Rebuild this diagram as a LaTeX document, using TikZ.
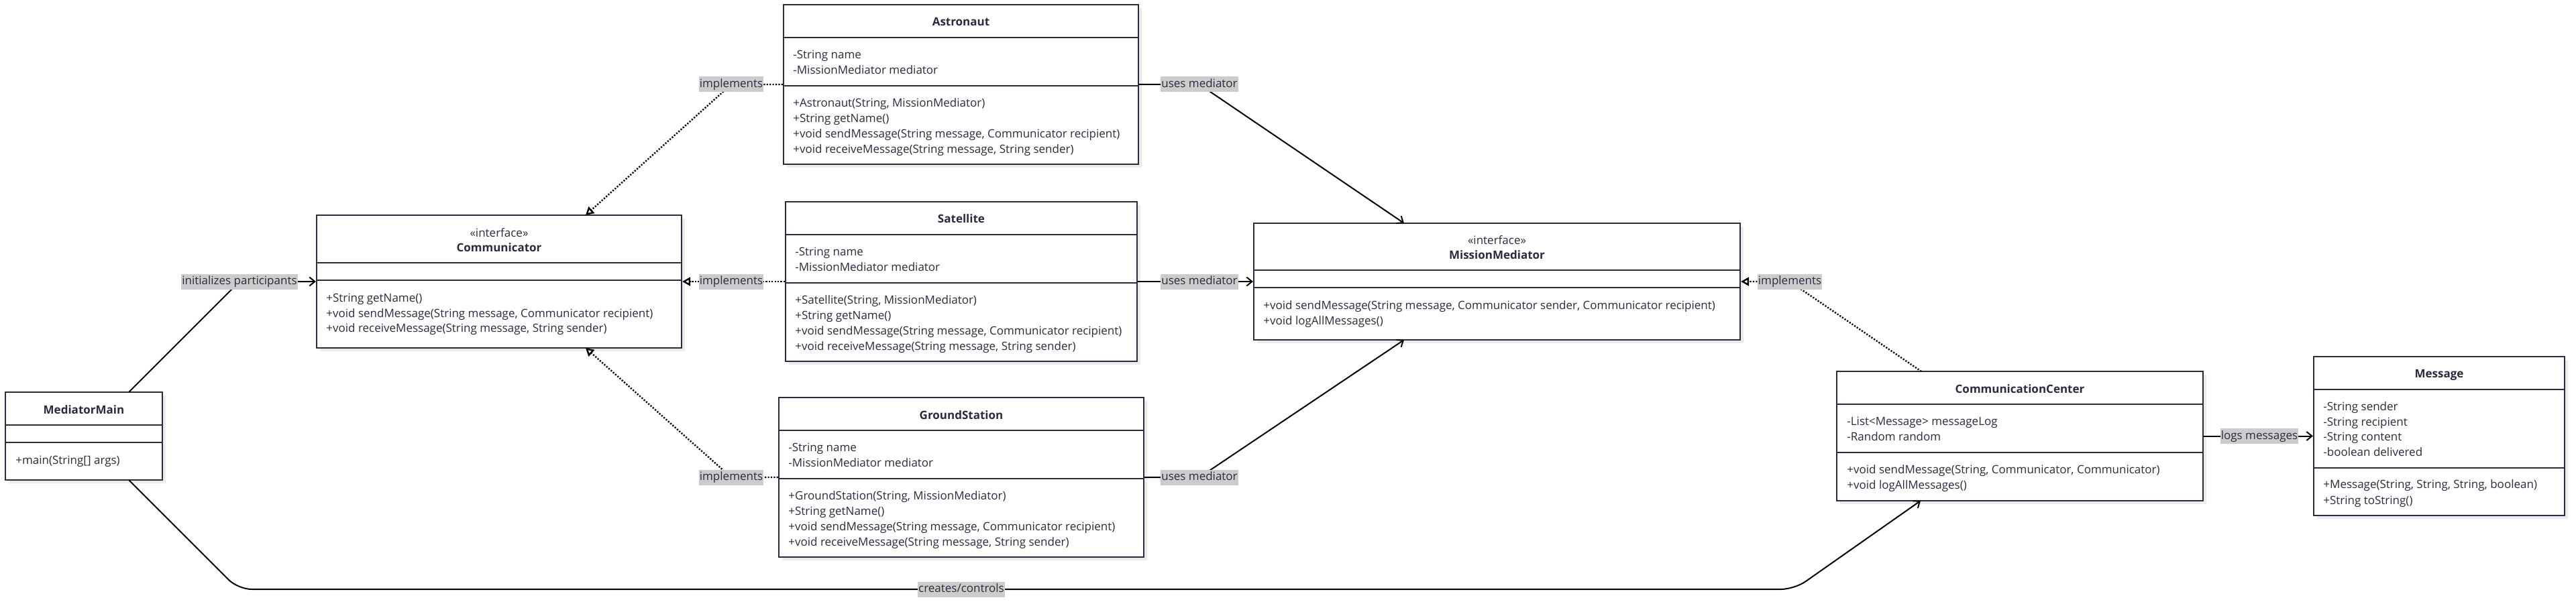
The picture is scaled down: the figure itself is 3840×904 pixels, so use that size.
\documentclass[tikz,border=0pt]{standalone}
\usepackage{fontspec}
\setmainfont{Open Sans}
\usetikzlibrary{arrows.meta,fit}
\definecolor{ink}{HTML}{2B2B3D}
\definecolor{lblbg}{HTML}{CCCCCC}
\definecolor{shade}{HTML}{ECECEC}
\tikzset{
 classbox/.style={draw=ink, line width=1.1pt, fill=white, inner sep=0pt},
 shadowbox/.style={fill=shade},
 divline/.style={draw=ink, line width=1.1pt},
 txt/.style={inner sep=0pt, text=ink, font=\fontsize{8.5}{11.5}\selectfont},
 ttl/.style={inner sep=0pt, text=ink, font=\fontsize{8.5}{11.5}\selectfont\bfseries},
 lbl/.style={sharp corners, fill=lblbg, text=ink, inner xsep=0.6pt, inner ysep=0pt, minimum height=11.5pt, text height=6.2pt, text depth=1.7pt, font=\fontsize{8.5}{11.5}\selectfont},
 assoc/.style={line width=1pt, draw=black, -{Straight Barb[length=4pt,width=6.5pt]}},
 realize/.style={line width=1.2pt, draw=black, dash pattern=on 1.1pt off 1.1pt, -{Triangle[open,length=6pt,width=6.5pt,fill=white]}},
}
\newcommand{\umlclass}[5]{%
 \fill[shadowbox] (#2+5,#3+5) rectangle (#4+5,#5+5);
 \node[classbox, fit={(#2,#3) (#4,#5)}] (#1) {};}
\newcommand{\umldiv}[3]{\draw[divline] (#1,#3) -- (#2,#3);}
\newcommand{\umlline}[4]{\node[txt,anchor=base west] (#1) at (#2,#3) {#4};}
\newcommand{\umltitle}[4]{\node[ttl,anchor=base] (#1) at (#2,#3) {#4};}
\newcommand{\umlstereo}[4]{\node[txt,anchor=base] (#1) at (#2,#3) {#4};}
\begin{document}
\begin{tikzpicture}[x=0.5pt,y=-0.5pt]
\useasboundingbox (0,0) rectangle (3840,904);

% MediatorMain
\umlclass{mm}{8}{585}{242}{716}
\umldiv{8}{242}{634}\umldiv{8}{242}{660}
\umltitle{mm-t0}{125}{617.5}{MediatorMain}
\umlline{mm-m1}{23}{692.5}{+main(String[] args)}

% Communicator
\umlclass{comm}{472}{321}{1016}{519}
\umldiv{472}{1016}{392}\umldiv{472}{1016}{418}
\umlstereo{comm-s}{744}{353.5}{«interface»}
\umltitle{comm-t0}{744}{375.5}{Communicator}
\umlline{comm-m1}{486}{450.5}{+String getName()}
\umlline{comm-m2}{486}{473}{+void sendMessage(String message, Communicator recipient)}
\umlline{comm-m3}{486}{495.5}{+void receiveMessage(String message, String sender)}

% Astronaut
\umlclass{ast}{1168}{7}{1697}{245}
\umldiv{1168}{1697}{56}\umldiv{1168}{1697}{128}
\umltitle{ast-t0}{1432.5}{39}{Astronaut}
\umlline{ast-a1}{1182}{87.5}{-String name}
\umlline{ast-a2}{1182}{110.5}{-MissionMediator mediator}
\umlline{ast-m1}{1182}{159.5}{+Astronaut(String, MissionMediator)}
\umlline{ast-m2}{1182}{182.5}{+String getName()}
\umlline{ast-m3}{1182}{205.5}{+void sendMessage(String message, Communicator recipient)}
\umlline{ast-m4}{1182}{228.5}{+void receiveMessage(String message, String sender)}

% Satellite
\umlclass{sat}{1171}{301}{1695}{539}
\umldiv{1171}{1695}{350}\umldiv{1171}{1695}{422}
\umltitle{sat-t0}{1433}{332}{Satellite}
\umlline{sat-a1}{1185}{381.5}{-String name}
\umlline{sat-a2}{1185}{404.5}{-MissionMediator mediator}
\umlline{sat-m1}{1185}{453.5}{+Satellite(String, MissionMediator)}
\umlline{sat-m2}{1185}{476.5}{+String getName()}
\umlline{sat-m3}{1185}{499.5}{+void sendMessage(String message, Communicator recipient)}
\umlline{sat-m4}{1185}{522.5}{+void receiveMessage(String message, String sender)}

% GroundStation
\umlclass{gs}{1161}{593}{1705}{831}
\umldiv{1161}{1705}{642}\umldiv{1161}{1705}{714}
\umltitle{gs-t0}{1433}{625}{GroundStation}
\umlline{gs-a1}{1175}{673.5}{-String name}
\umlline{gs-a2}{1175}{696.5}{-MissionMediator mediator}
\umlline{gs-m1}{1175}{745.5}{+GroundStation(String, MissionMediator)}
\umlline{gs-m2}{1175}{768.5}{+String getName()}
\umlline{gs-m3}{1175}{791.5}{+void sendMessage(String message, Communicator recipient)}
\umlline{gs-m4}{1175}{814.5}{+void receiveMessage(String message, String sender)}

% MissionMediator
\umlclass{med}{1869}{333}{2594}{507}
\umldiv{1869}{2594}{403}\umldiv{1869}{2594}{429}
\umlstereo{med-s}{2231.5}{364.5}{«interface»}
\umltitle{med-t0}{2231.5}{386.5}{MissionMediator}
\umlline{med-m1}{1883}{461.5}{+void sendMessage(String message, Communicator sender, Communicator recipient)}
\umlline{med-m2}{1883}{484.5}{+void logAllMessages()}

% CommunicationCenter
\umlclass{cc}{2738}{554}{3284}{747}
\umldiv{2738}{3284}{603}\umldiv{2738}{3284}{675}
\umltitle{cc-t0}{3011}{586.5}{CommunicationCenter}
\umlline{cc-a1}{2753}{634.5}{-List<Message> messageLog}
\umlline{cc-a2}{2753}{657.5}{-Random random}
\umlline{cc-m1}{2753}{706.5}{+void sendMessage(String, Communicator, Communicator)}
\umlline{cc-m2}{2753}{729.5}{+void logAllMessages()}

% Message
\umlclass{msg}{3449}{532}{3823}{769}
\umldiv{3449}{3823}{581}\umldiv{3449}{3823}{698}
\umltitle{msg-t0}{3636}{563.5}{Message}
\umlline{msg-a1}{3463}{612.5}{-String sender}
\umlline{msg-a2}{3463}{635}{-String recipient}
\umlline{msg-a3}{3463}{657.5}{-String content}
\umlline{msg-a4}{3463}{680}{-boolean delivered}
\umlline{msg-m1}{3463}{728.5}{+Message(String, String, String, boolean)}
\umlline{msg-m2}{3463}{752}{+String toString()}

% anchor points
\coordinate (comm-tp) at (873,321);
\coordinate (comm-bp) at (873,519);
\coordinate (med-tp) at (2093,333);
\coordinate (med-bp) at (2093,507);
\coordinate (mm-tp) at (192,585);
\coordinate (mm-bp) at (192,716);
\coordinate (cc-tp) at (2864,554);
\coordinate (cc-bp) at (2863,747);
\coordinate (bend-l) at (355,879);
\coordinate (bend-r) at (2675,879);

% connectors
\draw[realize] (ast.west) -- (1090,126) node[lbl] (l-ai) {implements} -- (comm-tp);
\draw[realize] (sat.west) -- (1090,420) node[lbl] (l-si) {implements} -- (comm.east);
\draw[realize] (gs.west) -- (1090,712) node[lbl] (l-gi) {implements} -- (comm-bp);
\draw[assoc] (ast.east) -- (1788,126) node[lbl] (l-au) {uses mediator} -- (med-tp);
\draw[assoc] (sat.east) -- (1788,420) node[lbl] (l-su) {uses mediator} -- (med.west);
\draw[assoc] (gs.east) -- (1788,712) node[lbl] (l-gu) {uses mediator} -- (med-bp);
\draw[assoc] (mm-tp) -- (357,420) node[lbl] (l-init) {initializes participants} -- (comm.west);
\draw[assoc, rounded corners=10pt] (mm-bp) -- (bend-l) -- (1433,879) node[lbl] (l-cc) {creates/controls} -- (bend-r) -- (cc-bp);
\draw[realize] (cc-tp) -- (2668,420) node[lbl] (l-ci) {implements} -- (med.east);
\draw[assoc] (cc.east) -- (3368,650.5) node[lbl] (l-log) {logs messages} -- (msg.west);
\end{tikzpicture}
\end{document}
